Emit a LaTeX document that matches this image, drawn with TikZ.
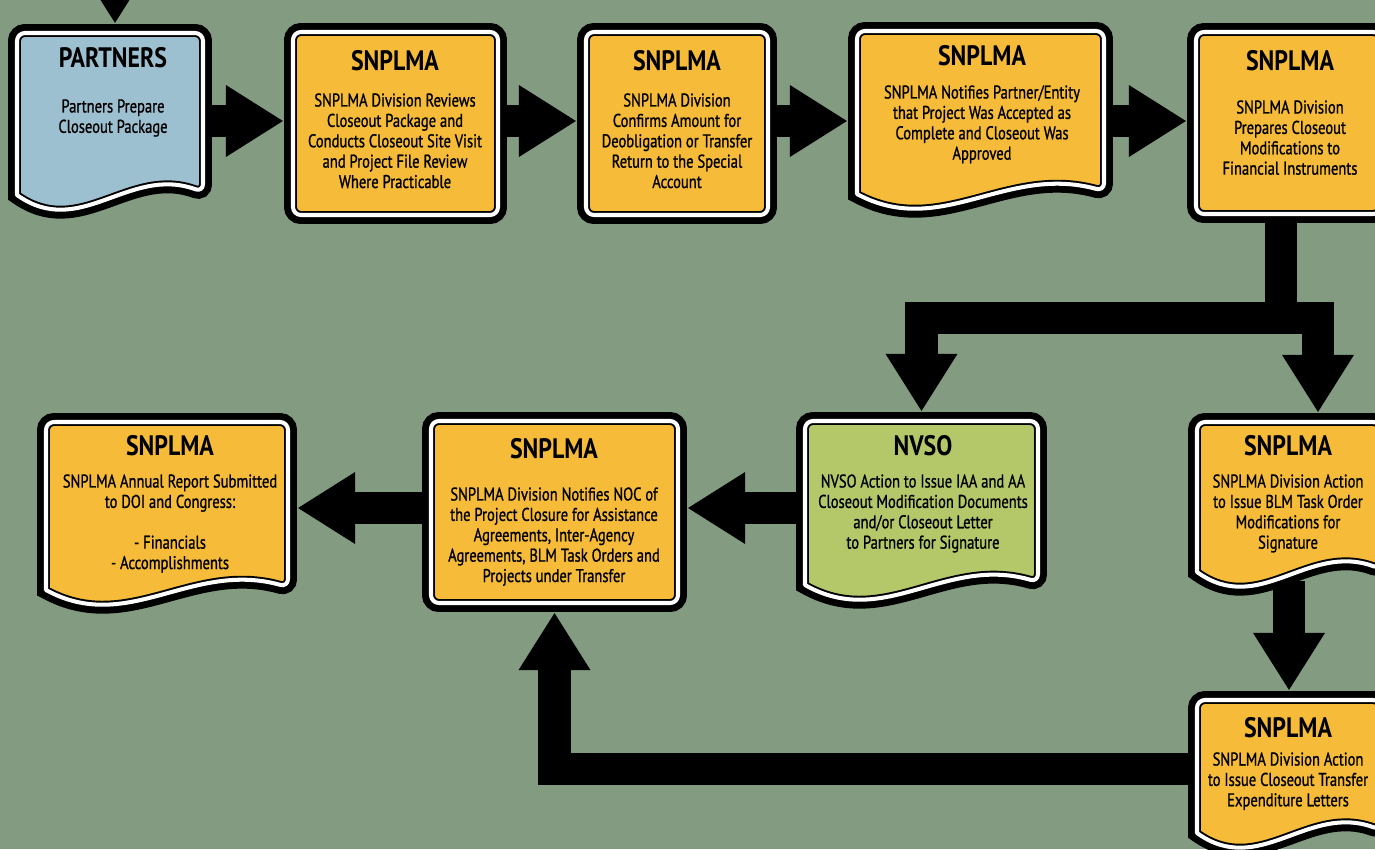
\documentclass[tikz,border=0pt]{standalone}
\usepackage{fontspec}
\setmainfont{PT Sans}[FakeStretch=0.85]
\newfontfamily\bodyfont{PT Sans}[FakeStretch=0.79,FakeBold=1]
\usetikzlibrary{arrows.meta,fit,calc}
\pgfdeclarelayer{backdrop}
\pgfdeclarelayer{links}
\pgfsetlayers{backdrop,links,main}

\definecolor{paper}{RGB}{130,155,129}
\definecolor{snplma}{RGB}{246,187,56}
\definecolor{partner}{RGB}{157,192,209}
\definecolor{nvsogreen}{RGB}{180,200,106}

\tikzset{
  boxrim/.style={preaction={draw=black,line width=10.2pt},
                 preaction={fill=#1},
                 preaction={draw=black,line width=4.5pt},
                 draw=white, line width=2.3pt, line join=round},
  boxarea/.style={inner sep=5.1pt},
  fat arrow/.style={line width=18.7pt, line join=miter,
                    -{Triangle[width=38.5pt,length=32.9pt]}},
  head/.style={anchor=base, inner sep=0pt, font=\fontsize{16}{18}\selectfont\bfseries},
  body/.style={anchor=north, inner sep=0pt, align=center, font=\bodyfont\fontsize{10.5}{11.6}\selectfont}
}

% document shape: left, top, right, bottom (left end of the wave)
\newcommand{\docpath}[4]{(#1,#4) [rounded corners=4.5pt] -- (#1,#2) -- (#3,#2) -- (#3,{#4-3}) [sharp corners]
  .. controls ({#1+0.6*(#3-#1)},{#4-30}) and ({#1+0.34*(#3-#1)},{#4+45}) .. cycle}

\begin{document}
\begin{tikzpicture}[x=0.02cm,y=-0.02cm]
    \useasboundingbox (0,0) rectangle (1375,849);
    \begin{pgfonlayer}{backdrop}
        \fill[paper] (0,0) rectangle (1375,849);
    \end{pgfonlayer}

    % Top row
    \draw[boxrim=partner] \docpath{17}{33}{203}{195};
    \node[boxarea, fit={(17,33) (203,195)}] (partners) {};
    \node[head] (partners-head) at (113,67) {PARTNERS};
    \node[body] (partners-body) at (113,99) {Partners Prepare\\Closeout Package};

    \draw[boxrim=snplma, rounded corners=4.5pt] (293,32) rectangle (498,215);
    \node[boxarea, fit={(293,32) (498,215)}] (review) {};
    \node[head] (review-head) at (395,70) {SNPLMA};
    \node[body] (review-body) at (395,93) {SNPLMA Division Reviews\\Closeout Package and\\Conducts Closeout Site Visit\\and Project File Review\\Where Practicable};

    \draw[boxrim=snplma, rounded corners=4.5pt] (586,32) rectangle (768,215);
    \node[boxarea, fit={(586,32) (768,215)}] (confirm) {};
    \node[head] (confirm-head) at (677,70) {SNPLMA};
    \node[body] (confirm-body) at (677,93) {SNPLMA Division\\Confirms Amount for\\Deobligation or Transfer\\Return to the Special\\Account};

    \draw[boxrim=snplma] \docpath{857}{31}{1104}{194};
    \node[boxarea, fit={(857,31) (1104,194)}] (notify) {};
    \node[head] (notify-head) at (982,65) {SNPLMA};
    \node[body] (notify-body) at (982,85) {SNPLMA Notifies Partner/Entity\\that Project Was Accepted as\\Complete and Closeout Was\\Approved};

    \draw[boxrim=snplma, rounded corners=4.5pt] (1196,32) rectangle (1381,214);
    \node[boxarea, fit={(1196,32) (1381,214)}] (prepare) {};
    \node[head] (prepare-head) at (1290,70) {SNPLMA};
    \node[body] (prepare-body) at (1290,100) {SNPLMA Division\\Prepares Closeout\\Modifications to\\Financial Instruments};

    % Second row
    \draw[boxrim=snplma] \docpath{46}{422}{288}{590};
    \node[boxarea, fit={(46,422) (288,590)}] (report) {};
    \node[head] (report-head) at (170,455) {SNPLMA};
    \node[body] (report-body) at (170,474) {SNPLMA Annual Report Submitted\\to DOI and Congress:\\~\\- Financials\\- Accomplishments};

    \draw[boxrim=snplma, rounded corners=4.5pt] (431,421) rectangle (678,603);
    \node[boxarea, fit={(431,421) (678,603)}] (noc) {};
    \node[head] (noc-head) at (554,458) {SNPLMA};
    \node[body] (noc-body) at (554,487) {SNPLMA Division Notifies NOC of\\the Project Closure for Assistance\\Agreements, Inter-Agency\\Agreements, BLM Task Orders and\\Projects under Transfer};

    \draw[boxrim=nvsogreen] \docpath{805}{421}{1038}{585};
    \node[boxarea, fit={(805,421) (1038,585)}] (nvso) {};
    \node[head] (nvso-head) at (923,455) {NVSO};
    \node[body] (nvso-body) at (923,474) {NVSO Action to Issue IAA and AA\\Closeout Modification Documents\\and/or Closeout Letter\\to Partners for Signature};

    \draw[boxrim=snplma] \docpath{1197}{422}{1381}{572};
    \node[boxarea, fit={(1197,422) (1381,572)}] (blm) {};
    \node[head] (blm-head) at (1288,455) {SNPLMA};
    \node[body] (blm-body) at (1288,474) {SNPLMA Division Action\\to Issue BLM Task Order\\Modifications for\\Signature};

    % Third row
    \draw[boxrim=snplma] \docpath{1197}{700}{1381}{833};
    \node[boxarea, fit={(1197,700) (1381,833)}] (transfer) {};
    \node[head] (transfer-head) at (1288,737) {SNPLMA};
    \node[body] (transfer-body) at (1288,752) {SNPLMA Division Action\\to Issue Closeout Transfer\\Expenditure Letters};

    % Connectors
    \coordinate (entry) at (115,-60);
    \coordinate (row1) at (0,121);
    \coordinate (fork) at (1281,318);
    \coordinate (row2) at (0,508);
    \coordinate (row3) at (0,769);
    \begin{pgfonlayer}{links}
        \draw[fat arrow] (entry) -- (entry |- partners.north);
        \foreach \a/\b in {partners/review, review/confirm, confirm/notify, notify/prepare} {
            \draw[fat arrow] (\a.east |- row1) -- (\b.west |- row1);
        }
        \draw[fat arrow] (prepare.south -| fork) -- (fork) -| (nvso.north);
        \draw[fat arrow] (fork) -| ($(blm.north)+(29,0)$);
        \draw[fat arrow] (blm.south) -- (transfer.north);
        \draw[fat arrow] (nvso.west |- row2) -- (noc.east |- row2);
        \draw[fat arrow] (noc.west |- row2) -- (report.east |- row2);
        \draw[fat arrow] (transfer.west |- row3) -| (noc.south);
    \end{pgfonlayer}
\end{tikzpicture}
\end{document}
